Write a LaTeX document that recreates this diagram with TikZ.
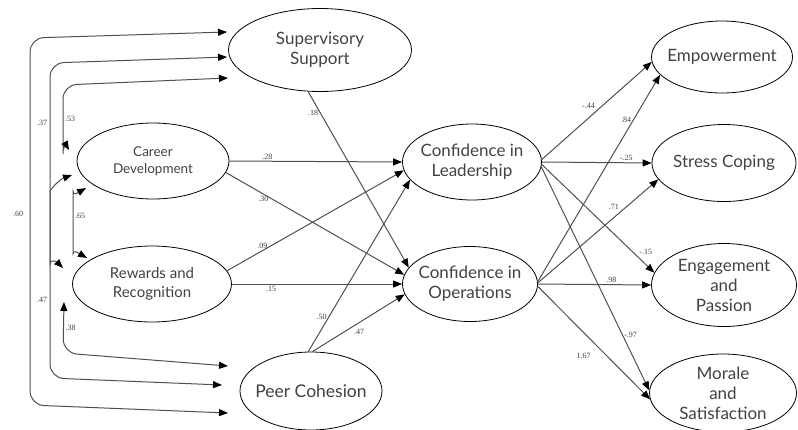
\documentclass[tikz,border=0pt]{standalone}
\usepackage{fontspec}
\setmainfont{Lato}
\newfontfamily\coeffont{Liberation Serif}
\usetikzlibrary{shapes.geometric,arrows.meta}
\definecolor{pathgray}{RGB}{85,78,78}
\definecolor{textgray}{RGB}{66,66,66}
\definecolor{coefgray}{RGB}{70,60,70}

\begin{document}
\begin{tikzpicture}[x=1pt, y=-1pt,
	latent/.style={ellipse, draw=black, line width=0.8pt, inner xsep=-14pt, inner ysep=-12pt, align=center, text=textgray, font=\fontsize{17}{20}\selectfont},
	effect/.style={draw=pathgray, line width=1pt, -{Triangle[length=9pt,width=7pt,color=black]}},
	cov/.style={draw=pathgray, line width=1pt, {Triangle[length=9pt,width=7pt,color=black]}-{Triangle[length=9pt,width=7pt,color=black]}, rounded corners=14pt},
	coef/.style={font=\coeffont\fontsize{8}{9}\selectfont, text=coefgray, inner sep=1.5pt}]

	\useasboundingbox (0,0) rectangle (798,429);

	% Nodes
	\node[latent, minimum width=183pt, minimum height=83pt] (SS) at (320,50) {Supervisory\\Support};
	\node[latent, minimum width=152pt, minimum height=76pt, font=\fontsize{13.5}{17}\selectfont] (CD) at (153,161) {Career\\Development};
	\node[latent, minimum width=159pt, minimum height=76pt, font=\fontsize{15}{19}\selectfont] (RR) at (152,284) {Rewards and\\Recognition};
	\node[latent, minimum width=142pt, minimum height=78pt, font=\fontsize{17.5}{20}\selectfont] (PC) at (311,391) {Peer Cohesion};
	\node[latent, minimum width=139pt, minimum height=76pt] (CL) at (472,162) {Confidence in\\Leadership};
	\node[latent, minimum width=135pt, minimum height=75pt] (CO) at (470,284) {Confidence in\\Operations};
	\node[latent, minimum width=141pt, minimum height=72pt] (EM) at (722,57) {Empowerment};
	\node[latent, minimum width=144pt, minimum height=77pt] (SC) at (724,163) {Stress Coping};
	\node[latent, minimum width=145pt, minimum height=83pt] (EP) at (724,285) {Engagement\\and\\Passion};
	\node[latent, minimum width=147pt, minimum height=78pt] (MS) at (723,393) {Morale\\and\\Satisfaction};

	% Free ends of the correlations
	\coordinate (s1) at (227,32);
	\coordinate (s2) at (227,57);
	\coordinate (s3) at (228,78);
	\coordinate (c1) at (69,150);
	\coordinate (c2) at (72,175);
	\coordinate (c3) at (86,188);
	\coordinate (r1) at (87,258);
	\coordinate (r2) at (63,268);
	\coordinate (r3) at (64,302);
	\coordinate (p1) at (228,366);
	\coordinate (p2) at (222,385);
	\coordinate (p3) at (228,413);

	% Correlations
	\draw[cov] (s1) -- (30,38) -- node[coef, left=5pt, pos=0.48] {.60} (30,405) -- (p3);
	\draw[cov] (s2) -- (50,63) -- node[coef, left=1pt, pos=0.32] {.37} (50,250) to[out=-90, in=135] (r2);
	\draw[cov] (c2) to[out=200, in=90] (50,205) -- node[coef, left=1pt, pos=0.55] {.47} (50,378) -- (p2);
	\draw[cov] (s3) -- (63,85) -- node[coef, right, pos=0.62] {.53} (63,140) to[out=-90, in=120] (c1);
	\draw[cov] (c3) to[out=210, in=90] (73,205) -- node[coef, right, pos=0.3] {.65} (73,240) to[out=-90, in=150] (r1);
	\draw[cov] (r3) -- node[coef, right, pos=0.5] {.38} (63,353) -- (p1);

	% Paths to confidence
	\draw[effect] (CD.0) -- node[coef, pos=0.22, above] {.28} (CL.180);
	\draw[effect] (CD.-9) -- node[coef, pos=0.21, below] {.30} (CO.172);
	\draw[effect] (RR.10) -- node[coef, pos=0.2, above] {.09} (CL.187);
	\draw[effect] (RR.0) -- node[coef, pos=0.23, below] {.15} (CO.180);
	\draw[effect] (SS.254) -- node[coef, pos=0.12, left] {.18} (CO.165);
	\draw[effect] (PC.94) -- node[coef, pos=0.2, left] {.50} (CL.196);
	\draw[effect] (PC.88) -- node[coef, pos=0.43, below right] {.47} (CO.189);

	% Paths to outcomes
	\draw[effect] (CL.2) -- node[coef, pos=0.5, above left] {-.44} (EM.184);
	\draw[effect] (CO.2) -- node[coef, pos=0.78, left] {.84} (EM.196);
	\draw[effect] (CL.0) -- node[coef, pos=0.77, above] {-.25} (SC.180);
	\draw[effect] (CO.1) -- node[coef, pos=0.69, above left] {.71} (SC.194);
	\draw[effect] (CL.-2) -- node[coef, pos=0.85, above right] {-.15} (EP.170);
	\draw[effect] (CO.0) -- node[coef, pos=0.65, above] {.98} (EP.180);
	\draw[effect] (CL.-4) -- node[coef, pos=0.75, right] {-.97} (MS.178);
	\draw[effect] (CO.-2) -- node[coef, pos=0.55, xshift=-16pt, yshift=-7pt] {1.67} (MS.185);
\end{tikzpicture}
\end{document}
